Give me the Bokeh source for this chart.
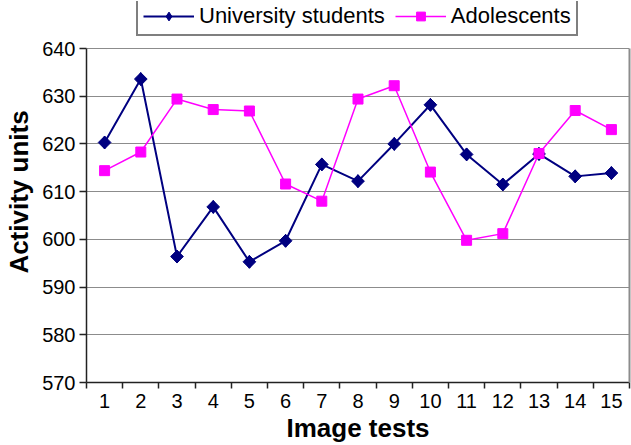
import math
from bokeh.plotting import figure
from bokeh.models import (Legend, LegendItem, FixedTicker, Range1d, LinearAxis)
from bokeh.embed import file_html
from bokeh.resources import INLINE

tests = list(range(1, 16))
university = [620.3, 633.6, 596.4, 606.8, 595.3, 599.7, 615.7, 612.2, 620.0, 628.2,
              617.8, 611.5, 617.9, 613.2, 613.9]
adolescents = [614.4, 618.3, 629.4, 627.2, 626.9, 611.6, 608.0, 629.4, 632.2, 614.1,
               599.8, 601.2, 618.0, 627.0, 623.0]
y_ticks = [570, 580, 590, 600, 610, 620, 630, 640]

FONT = "Liberation Sans"
NAVY = "#000080"
MAG = "#FF00FF"
GRID = "#8c8c8c"

Y0, Y1 = 570, 640
PLOT_H = 334          # pixel height of the 570..640 part
TOP_EXTRA = 47        # pixel room above for the legend
y_top = Y1 + (Y1 - Y0) * TOP_EXTRA / PLOT_H

p = figure(width=631, height=445,
           x_range=Range1d(0.5, 15.5), y_range=Range1d(Y0, y_top),
           output_backend="svg", toolbar_location=None,
           min_border_left=86, min_border_right=2, min_border_top=1, min_border_bottom=63)

p.background_fill_color = "white"
p.border_fill_color = "white"
p.outline_line_color = None

p.xgrid.grid_line_color = None
p.ygrid.grid_line_color = GRID
p.ygrid.grid_line_width = 1.2

p.xaxis.ticker = FixedTicker(ticks=tests, minor_ticks=[i + 0.5 for i in range(0, 16)])
p.xaxis.major_tick_line_color = None
p.xaxis.minor_tick_line_color = "#222222"
p.xaxis.minor_tick_out = 6
p.xaxis.minor_tick_in = 0
p.xaxis.minor_tick_line_width = 1.5
p.yaxis.ticker = FixedTicker(ticks=y_ticks)
p.yaxis.bounds = (Y0, Y1)
p.yaxis.minor_tick_line_color = None
p.yaxis.major_tick_out = 7
p.yaxis.major_tick_in = 0
p.yaxis.major_tick_line_color = "#222222"
p.yaxis.major_tick_line_width = 1.5

for ax in (p.xaxis, p.yaxis):
    ax.axis_line_color = "#222222"
    ax.axis_line_width = 1.5
    ax.major_label_text_font = FONT
    ax.major_label_text_font_size = "20px"
    ax.major_label_text_color = "black"
    ax.axis_label_text_font = FONT
    ax.axis_label_text_font_size = "26px"
    ax.axis_label_text_font_style = "bold"
    ax.axis_label_text_color = "black"

p.xaxis.major_label_standoff = 5
p.yaxis.major_label_standoff = 4
p.xaxis.axis_label = "Image tests"
p.yaxis.axis_label = "Activity units"
p.xaxis.axis_label_standoff = 2
p.yaxis.axis_label_standoff = 5

# right-hand frame border (gray), limited to the data range
rax = LinearAxis(ticker=FixedTicker(ticks=[]), bounds=(Y0, Y1),
                 axis_line_color=GRID, axis_line_width=2,
                 major_tick_line_color=None, minor_tick_line_color=None,
                 major_label_text_font_size="0px")
rax.major_tick_out = 0
rax.major_tick_in = 0
p.add_layout(rax, "right")

l1 = p.line(tests, university, line_color=NAVY, line_width=2)
k1 = p.scatter(tests, university, marker="diamond", size=13,
               fill_color=NAVY, line_color=NAVY)
m1 = p.scatter(tests, university, marker="square", angle=math.pi / 4, size=9,
               fill_color=NAVY, line_color=NAVY)
l2 = p.line(tests, adolescents, line_color=MAG, line_width=1.5)
m2 = p.scatter(tests, adolescents, marker="square", size=10,
               fill_color=MAG, line_color=MAG)

legend = Legend(items=[LegendItem(label="University students", renderers=[l1, k1]),
                       LegendItem(label="Adolescents", renderers=[l2, m2])],
                orientation="horizontal", location=(50, PLOT_H + TOP_EXTRA - 35))
legend.label_text_font = FONT
legend.label_text_font_size = "22px"
legend.label_text_color = "black"
legend.glyph_width = 51
legend.glyph_height = 22
legend.label_standoff = 5
legend.spacing = 10
legend.padding = 5
legend.margin = 0
legend.border_line_color = "black"
legend.border_line_width = 2
legend.background_fill_color = "white"
legend.background_fill_alpha = 1
p.add_layout(legend, "center")

open("out.html", "w").write(file_html(p, INLINE))
